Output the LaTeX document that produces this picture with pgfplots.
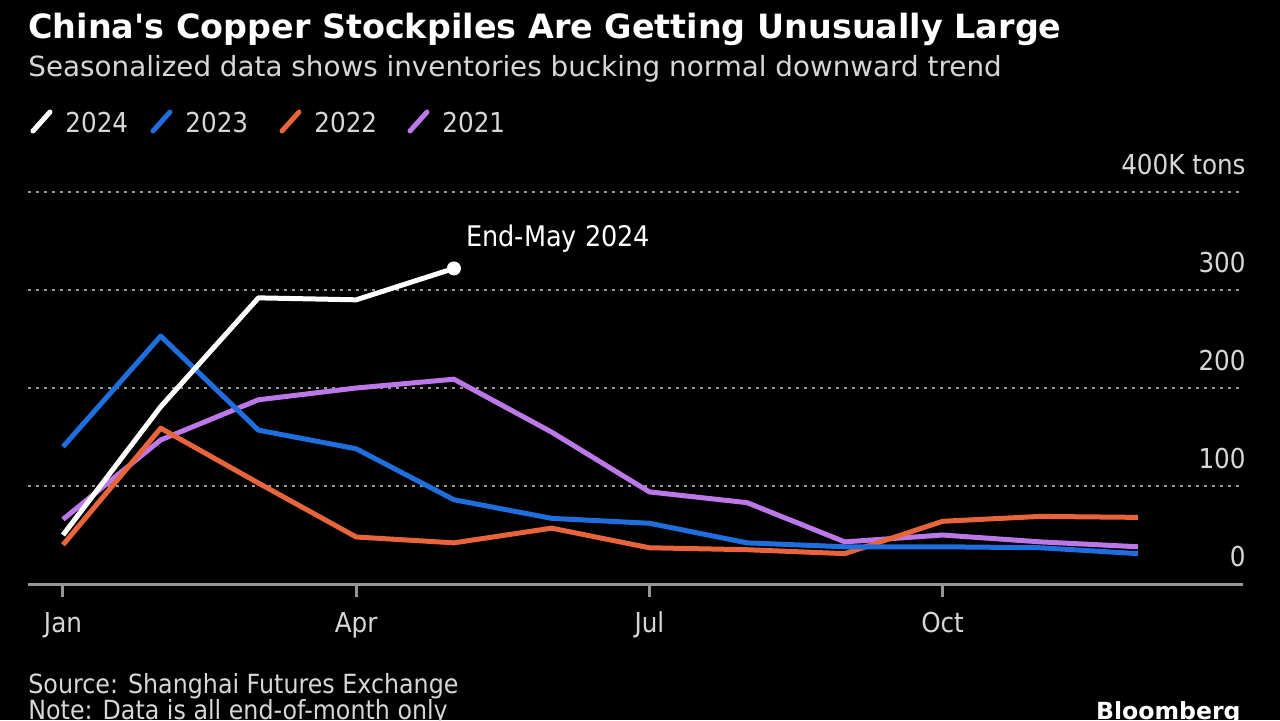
\documentclass[border=0pt]{standalone}
\usepackage{fontspec}
\setmainfont{DejaVu Sans}
\newfontfamily\titlefont{DejaVu Sans}
\newfontfamily\condfont[FakeStretch=0.9]{DejaVu Sans}
\usepackage{pgfplots}
\usepackage{pgfplotstable}
\pgfplotsset{compat=1.18}
\definecolor{cA}{RGB}{255,255,255}
\definecolor{cB}{RGB}{31,110,222}
\definecolor{cC}{RGB}{232,100,58}
\definecolor{cD}{RGB}{188,120,232}
\definecolor{txt}{RGB}{215,215,215}
\definecolor{grd}{RGB}{150,150,150}

\pgfplotstableread{
m v
0 50
1 181
2 292
3 290
4 322
}\yrA
\pgfplotstableread{
m v
0 140
1 253
2 157
3 138
4 86
5 67
6 62
7 42
8 38
9 38
10 37
11 31
}\yrB
\pgfplotstableread{
m v
0 40
1 159
2 103
3 48
4 42
5 57
6 37
7 35
8 31
9 64
10 69
11 68
}\yrC
\pgfplotstableread{
m v
0 66
1 147
2 188
3 200
4 209
5 155
6 94
7 83
8 43
9 50
10 43
11 38
}\yrD

\begin{document}
\begin{tikzpicture}
\begin{scope}[x=0.5pt,y=-0.5pt]
\fill[black] (0,0) rectangle (1280,720);
\useasboundingbox (0,0) rectangle (1280,720);

\node[anchor=base west, inner sep=0, text=white, font=\titlefont\fontsize{16.7}{20}\selectfont\bfseries] at (28,38) {China's Copper Stockpiles Are Getting Unusually Large};
\node[anchor=base west, inner sep=0, text=txt, font=\fontsize{13.9}{16}\selectfont] at (28,76) {Seasonalized data shows inventories bucking normal downward trend};

% legend
\foreach \xx/\cc/\yy in {33/cA/2024, 153/cB/2023, 282/cC/2022, 410/cD/2021}{
  \draw[\cc, line width=2.5pt, line cap=round] (\xx,131) -- (\xx+17,112);
  \node[anchor=base west, inner sep=0, text=txt, font=\condfont\fontsize{13.7}{16}\selectfont] at (\xx+32,132) {\yy};
}

\node[anchor=base west, inner sep=0, text=white, font=\condfont\fontsize{14.2}{16}\selectfont] at (466,246) {End-May 2024};

\node[anchor=base west, inner sep=0, text=txt, font=\condfont\fontsize{13.2}{15}\selectfont] at (28,693) {Source: Shanghai Futures Exchange};
\node[anchor=base west, inner sep=0, text=txt, font=\condfont\fontsize{13.2}{15}\selectfont] at (28,719) {Note: Data is all end-of-month only};
\node[anchor=base east, inner sep=0, text=white, font=\fontsize{11.8}{14}\selectfont\bfseries] at (1241,719) {Bloomberg};
\end{scope}

\begin{axis}[
  at={(14pt,-292pt)}, anchor=south west,
  scale only axis, width=607.5pt, height=196pt,
  xmin=-0.358, xmax=12.074, ymin=0, ymax=400,
  axis x line*=bottom, axis y line*=right,
  y axis line style={draw=none},
  x axis line style={draw=grd, line width=1.5pt, -},
  xtick={0,3,6,9}, xticklabels={Jan,Apr,Jul,Oct},
  xtick style={draw=grd, line width=1.5pt},
  tick align=outside, major tick length=6.5pt,
  ytick={100,200,300,400}, yticklabels={100,200,300,400K tons},
  extra y ticks={0}, extra y tick labels={0},
  extra y tick style={grid=none},
  ytick style={draw=none},
  ymajorgrids, grid style={draw=grd, line width=1.2pt, dash pattern=on 1.5pt off 2.5pt},
  yticklabel pos=right,
  yticklabel style={anchor=base east, inner sep=0pt, yshift=8.75pt, xshift=-5pt, text=txt, font=\condfont\fontsize{13.7}{16}\selectfont},
  xticklabel style={anchor=base, inner sep=0pt, text=txt, font=\condfont\fontsize{13.7}{16}\selectfont, yshift=-17.5pt},
  /pgf/number format/assume math mode=true,
  clip=false,
]
\addplot[cD, line width=2.5pt, line join=round] table[x=m,y=v] {\yrD};
\addplot[cC, line width=2.5pt, line join=round] table[x=m,y=v] {\yrC};
\addplot[cB, line width=2.5pt, line join=round] table[x=m,y=v] {\yrB};
\addplot[cA, line width=2.5pt, line join=round] table[x=m,y=v] {\yrA};
\addplot[only marks, mark=*, mark size=3.3pt, mark options={fill=white, draw=white}] coordinates {(4,322)};
\end{axis}
\end{tikzpicture}
\end{document}
